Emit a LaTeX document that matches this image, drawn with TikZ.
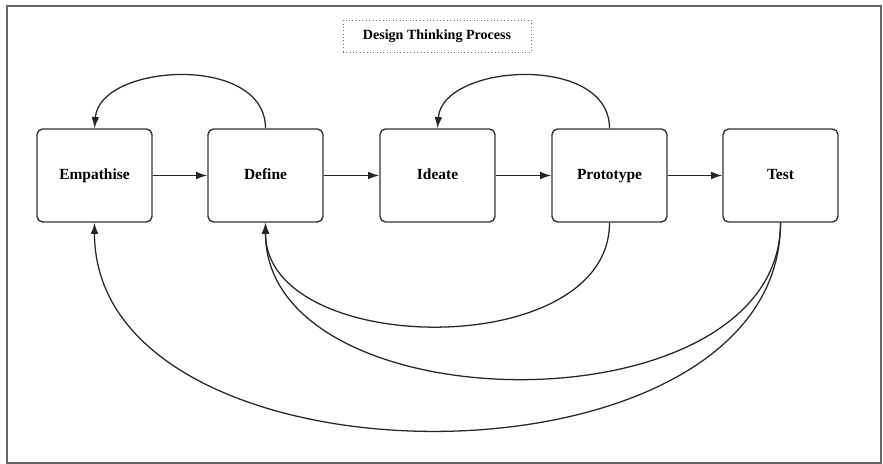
\documentclass[tikz,border=0pt]{standalone}
\usepackage{fontspec}
\setmainfont{Liberation Serif}
\usetikzlibrary{arrows.meta}
\begin{document}
\begin{tikzpicture}[x=0.025cm,y=-0.025cm,
 stage/.style={draw=black!80,line width=1pt,rounded corners=4pt,minimum width=2.875cm,minimum height=2.325cm,text height=1.6ex,text depth=0.3ex,font=\fontsize{11}{13}\selectfont\bfseries},
 heading/.style={draw=black!55,dotted,minimum width=4.7cm,minimum height=0.8cm,font=\fontsize{10}{12}\selectfont\bfseries},
 flow/.style={-{Latex[length=8pt,width=5.5pt]},draw=black!85,line width=0.9pt}]
 \useasboundingbox (0,0) rectangle (883,464);
 \draw[black!60,line width=0.9pt] (7,6) rectangle (881,463);
 %
 \node[heading] (title) at (437,36) {Design Thinking Process};
 %
 \node[stage] (empathise) at (94.5,175.5) {Empathise};
 \node[stage] (define) at (265.5,175.5) {Define};
 \node[stage] (ideate) at (437.5,175.5) {Ideate};
 \node[stage] (prototype) at (609.5,175.5) {Prototype};
 \node[stage] (test) at (780.5,175.5) {Test};
 %
 \draw[flow] (empathise) -- (define);
 \draw[flow] (define) -- (ideate);
 \draw[flow] (ideate) -- (prototype);
 \draw[flow] (prototype) -- (test);
 %
 \draw[flow] (define.north) .. controls +(0,-75) and +(5,-65) .. (empathise.north);
 \draw[flow] (prototype.north) .. controls +(0,-75) and +(5,-65) .. (ideate.north);
 %
 \draw[flow] (prototype.south) .. controls +(0,140) and +(0,135) .. (define.south);
 \draw[flow] (test.south) .. controls +(0,210) and +(0,205) .. (define.south);
 \draw[flow] (test.south) .. controls +(0,278) and +(0,275) .. (empathise.south);
\end{tikzpicture}
\end{document}
